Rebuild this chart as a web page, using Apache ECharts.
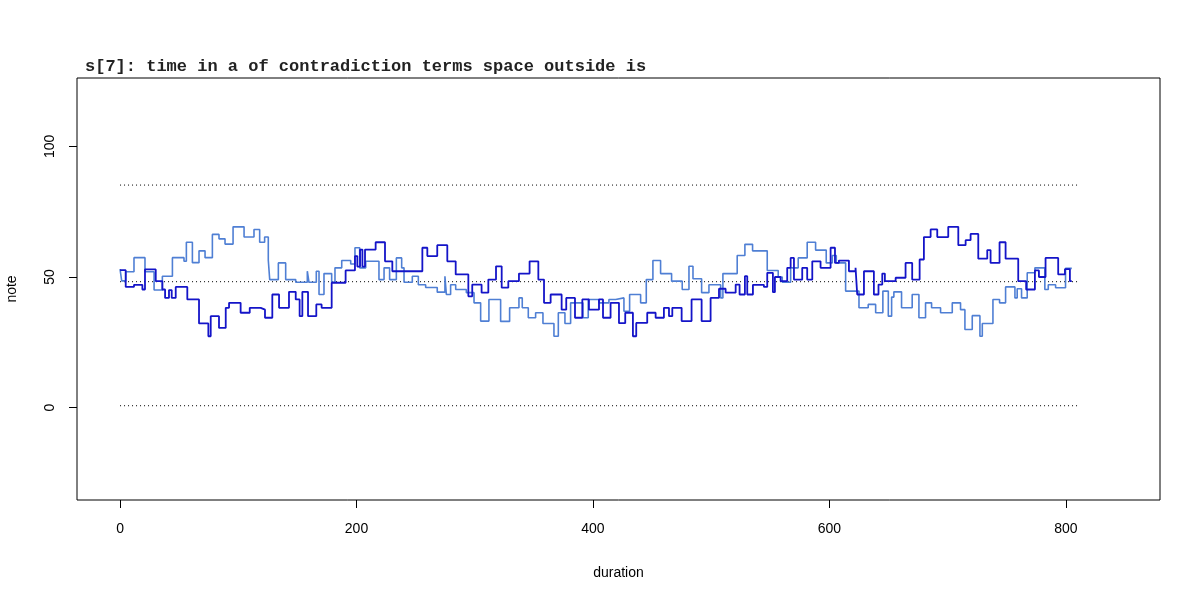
<!DOCTYPE html>
<html>
<head>
<meta charset="utf-8">
<script src="https://cdn.jsdelivr.net/npm/echarts@6/dist/echarts.min.js"></script>
<style>
html,body{margin:0;padding:0;background:#fff;}
#chart{width:1200px;height:600px;}
</style>
</head>
<body>
<div id="chart"></div>
<script>
// ---- data ----
const titleText = "s[7]: time in a of contradiction terms space outside is";
const xTicks = [0, 200, 400, 600, 800];
const yTicks = [0, 50, 100];
const refLevels = [85.2, 48.2, 0.7];     // dotted reference lines
const refRange = [0, 810];
const endDuration = 805;

// [start duration, note] — each value holds until the next start
const lightSteps = [
  [0,53],[1.4,48.5],[4.8,52],[11.8,57.4],[21.1,52],[28.8,45],[35.8,50.3],[44.3,57.4],[54.1,56],[56.1,63.3],
  [61.2,55.5],[66.8,60],[71.9,57.4],[78.1,66.3],[83.7,64.6],[88.8,62.6],[95.6,69.2],[104.9,65.3],[113.3,68.2],[118.1,63.3],
  [122.3,65.3],[125.4,56.4],[126.6,49],[133.9,55.4],[140.1,49],[148.6,48],[158.4,52.2],[159.8,48],[166,52.2],[168.3,43.3],
  [172.5,51.3],[179,48],[181.8,53.5],[187.5,56.3],[195.1,55],[198.7,61.2],[202.7,53.5],[207.8,56],[219,49],[223.3,53.5],
  [228,49],[233.7,57.3],[238.2,53.5],[240.2,48],[247.2,50.3],[252.3,47],[258.5,46],[268.3,44.2],[274.8,50.3],[276,43.3],
  [279.6,47],[283.9,45.2],[292.9,44],[299.4,40.1],[305,33.1],[312,41.4],[321.9,33],[329.5,38.2],[337.4,42],[340.2,38.2],
  [345.3,34.4],[351.5,36.3],[357.7,32.2],[367,27.3],[370.7,36.3],[376.3,32.2],[381.1,40.1],[391.5,34.4],[396,41.4],[405.1,40.1],
  [413.5,41.4],[419.2,42],[426.2,36.9],[431,43.3],[440.3,40.1],[445.1,49],[450.7,56.3],[457.2,51.3],[466.5,48.4],[475.5,45.2],
  [481.2,54.1],[484.6,49.3],[491.9,44],[498.1,47],[508,42],[509.9,51.3],[522,58.2],[528.5,62.5],[535,60],[547.4,52.5],
  [556.7,50],[560.1,48],[567.2,53.5],[573.6,57.3],[581.2,63.3],[588.3,60.3],[597.3,55.4],[602.4,58.2],[605.8,55.4],[613.7,44.6],
  [625,38.2],[632.8,39.5],[639.1,36.3],[645.2,44.6],[649.8,35],[652.6,42.3],[654.5,44.3],[661,38.2],[670,43.3],[675.7,34.4],
  [681.3,40.1],[686.4,38.2],[694,36.3],[703.9,40.1],[710.9,37.5],[714.6,29.9],[720.8,35.2],[727.3,27.3],[729.3,32.2],[738.3,41.4],
  [743.9,40.1],[749,46.2],[756.9,42],[758.8,45.5],[762.5,42],[767.3,51.6],[773.8,53.5],[782.2,45.2],[785.1,47],[791.3,45.9],
  [799.7,53.3]
];
const darkSteps = [
  [0,52.6],[4.8,46.2],[11.8,47],[18.9,45.2],[21.1,52.9],[30.2,48.4],[35.8,45.2],[38.1,42],[41.4,45],[43.7,42],
  [47.1,46.2],[56.9,41.4],[66.8,32.2],[74.7,27.3],[76.7,35],[83.7,30.5],[89.4,38.2],[92.2,40.1],[102,36.3],[109.7,38.2],
  [119,37.5],[122.6,34.4],[128.8,43.3],[134.5,38.2],[142.9,44.3],[148.6,41.4],[151.9,35],[154.2,44.3],[159,35],[166,39.5],
  [170.5,38.2],[179,47.8],[190.8,52.5],[198.7,58],[200.7,54],[203,60.5],[205,54],[207.2,60.5],[216.2,63.3],[224.1,56],
  [230.3,52.2],[255.7,61.2],[259.9,58],[268.3,62.2],[276.8,56],[283.9,51],[294.6,42.6],[297.9,47.1],[305.8,44],[311.5,49],
  [318,54.1],[322.8,45.9],[328.4,48.4],[337.4,51.3],[346.4,56],[353.8,49],[358.6,40.1],[364.2,43.3],[373.5,37.5],[377.4,42],
  [384.8,34.4],[391,41.4],[396.6,37.5],[405.1,41.4],[408.5,34.4],[414.9,40.1],[422,32.3],[427.3,36.3],[433.8,27.3],[436.6,32.4],
  [445.9,36.3],[453,34.4],[460,38.2],[464.3,35],[467.1,38.2],[475,33.1],[483.4,41.4],[491.9,33.1],[499.5,42],[506.6,45.5],
  [512.2,44],[520.7,47.1],[524,43.3],[528.5,50.3],[530.5,43.3],[535.3,47],[544.6,46.2],[547.4,51.6],[552.2,44.2],[553.9,50],
  [558.7,48.4],[564.3,53.5],[567.2,57.3],[570,49],[577,53.5],[581.2,49],[585.5,56],[592.5,53.5],[601,61.2],[604.7,55.4],
  [608,56.3],[616.5,52.2],[622.1,53.5],[623.5,43.3],[629.2,52.2],[637.6,43.3],[641.5,47.1],[644.7,51.3],[646.9,48.4],[656,49.7],
  [664.4,55.4],[670,49],[676.3,56.7],[679.9,65.3],[685.6,68.2],[691.2,65.3],[700.5,69.2],[709,62.2],[715.2,64.1],[719.4,66.5],
  [725.9,57],[733.5,60.3],[736.3,55.4],[743.9,63.3],[749,57],[759.7,48.4],[766.4,45.2],[773.8,52.5],[777.2,50],[782.8,57.3],
  [793.5,51],[799.2,53],[803.4,48.4]
];

// ---- chart ----
function withEnd(steps) {
  const d = steps.slice();
  d.push([endDuration, steps[steps.length - 1][1]]);
  return d;
}
const axisFont = 'Liberation Sans, Arial, Helvetica, sans-serif';
const chart = echarts.init(document.getElementById('chart'), null, {renderer: 'canvas'});
const series = [];
refLevels.forEach(function (lv) {
  series.push({
    type: 'line', data: [[refRange[0], lv], [refRange[1], lv]],
    symbol: 'none', silent: true,
    lineStyle: {color: '#000', width: 1, type: [1, 3]}
  });
});
series.push({
  type: 'line', step: 'end', data: withEnd(lightSteps), symbol: 'none',
  lineStyle: {color: '#4f7fd4', width: 1.6}
});
series.push({
  type: 'line', step: 'end', data: withEnd(darkSteps), symbol: 'none',
  lineStyle: {color: '#1414c8', width: 1.8}
});
chart.setOption({
  animation: false,
  backgroundColor: '#fff',
  title: {
    text: titleText, left: 80, top: 53,
    textStyle: {fontFamily: 'Liberation Mono, Courier New, monospace', fontWeight: 'bold', fontSize: 17, color: '#222'}
  },
  grid: {left: 77, right: 40, top: 78, bottom: 100, show: true, borderColor: '#000', borderWidth: 1, backgroundColor: 'transparent', containLabel: false, outerBoundsMode: 'none'},
  xAxis: {
    type: 'value', min: -36.4, max: 879.6,
    name: 'duration', nameLocation: 'middle', nameGap: 66,
    nameTextStyle: {fontFamily: axisFont, fontSize: 14, color: '#000'},
    axisLine: {show: false, onZero: false},
    splitLine: {show: false},
    axisTick: {show: true, length: 8, inside: false, customValues: xTicks, lineStyle: {color: '#000'}},
    axisLabel: {customValues: xTicks, margin: 22, fontFamily: axisFont, fontSize: 14, color: '#000'}
  },
  yAxis: {
    type: 'value', min: -35.4, max: 126.2,
    name: 'note', nameLocation: 'middle', nameGap: 58, nameRotate: 90,
    nameTextStyle: {fontFamily: axisFont, fontSize: 14, color: '#000'},
    axisLine: {show: false, onZero: false},
    splitLine: {show: false},
    axisTick: {show: true, length: 8, inside: false, customValues: yTicks, lineStyle: {color: '#000'}},
    axisLabel: {customValues: yTicks, rotate: 90, margin: 20, fontFamily: axisFont, fontSize: 14, color: '#000'}
  },
  series: series
});
</script>
</body>
</html>
